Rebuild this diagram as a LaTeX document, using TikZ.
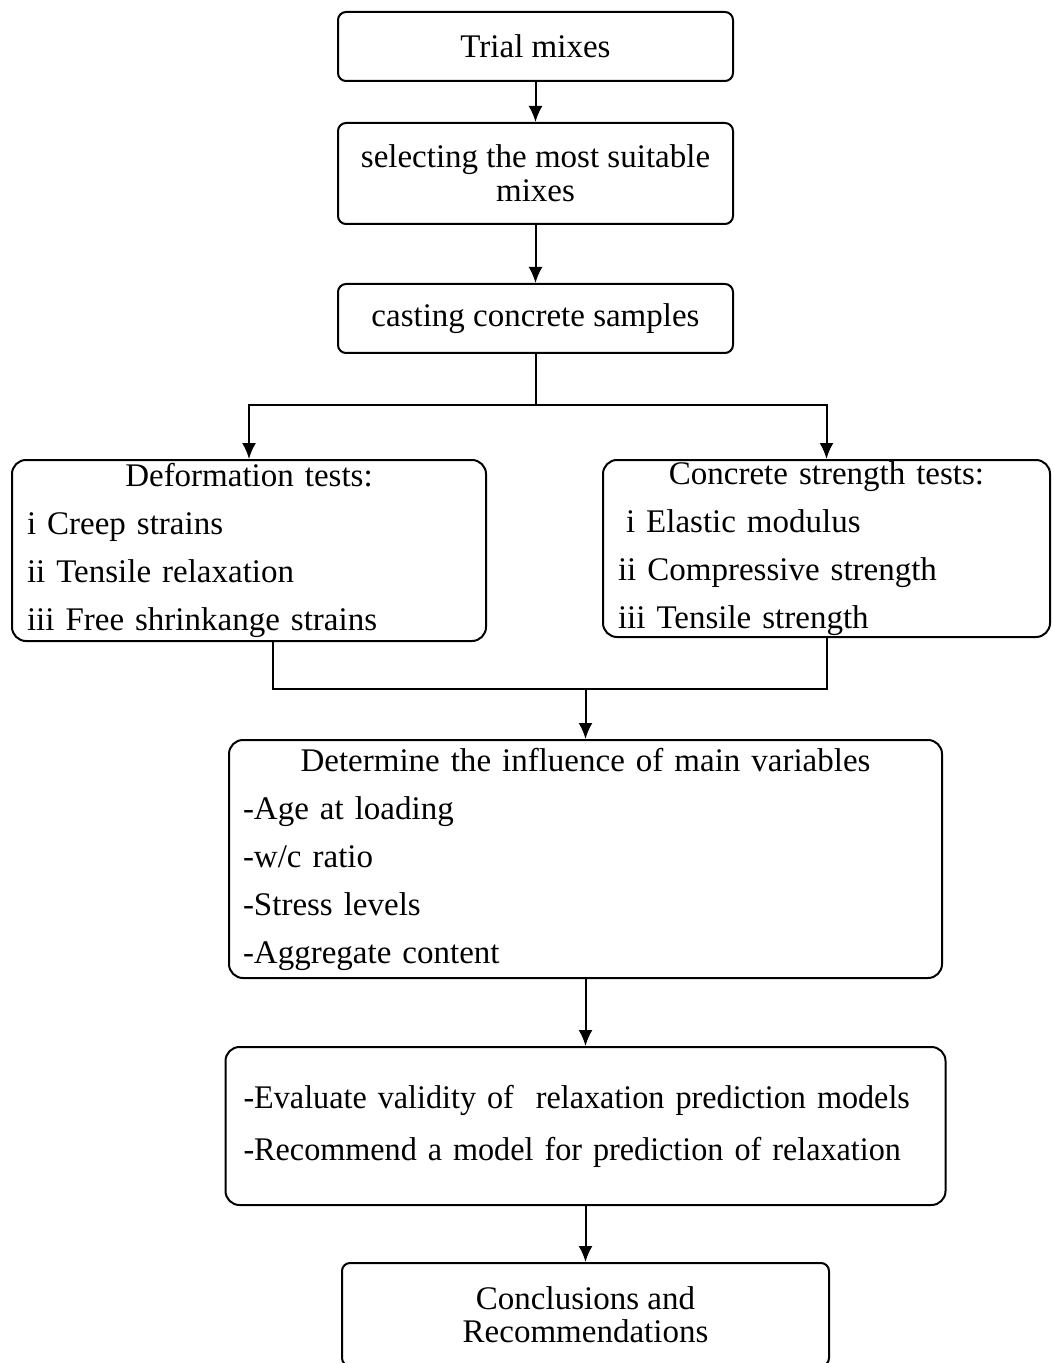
\documentclass[tikz,border=0pt]{standalone}
\usepackage{fontspec}
\setmainfont{Liberation Serif}
\usetikzlibrary{arrows.meta}
\begin{document}
\begin{tikzpicture}[x=0.5pt,y=-0.5pt,line width=1pt,
	box/.style={draw,rounded corners=4pt,inner sep=0pt,align=center},
	bigbox/.style={draw,rounded corners=7pt,inner ysep=0pt,align=left},
	arr/.style={-{Latex[length=8pt,width=7pt]}}]
	\useasboundingbox (0,0) rectangle (1051,1363);
	\def\fs#1{\fontsize{16.5}{#1}\selectfont}
	\node[box,minimum width=197.5pt,minimum height=34.5pt,font=\fs{20}] (trial) at (535.5,46.5) {Trial mixes};
	\node[box,minimum width=197.5pt,minimum height=50.5pt,font=\fs{17}] (select) at (535.5,173.5) {selecting the most suitable\\mixes};
	\node[box,minimum width=197.5pt,minimum height=34.5pt,font=\fs{20}] (cast) at (535.5,318.5) {casting concrete samples};
	\node[bigbox,text width=222pt,inner xsep=7.5pt,minimum height=90.5pt,font=\fs{24}] (deform) at (249,550.5)
	{\makebox[\linewidth]{Deformation tests:}\\i Creep strains\\ii Tensile relaxation\\iii Free shrinkange strains};
	\node[bigbox,text width=208.5pt,inner xsep=7.5pt,minimum height=88.5pt,font=\fs{24}] (strength) at (826.5,548.5)
	{\makebox[\linewidth]{Concrete strength tests:}\\\hspace*{4pt}i Elastic modulus\\ii Compressive strength\\iii Tensile strength};
	\node[bigbox,text width=342.5pt,inner xsep=7pt,minimum height=119pt,font=\fs{24}] (determ) at (585.5,859)
	{\makebox[\linewidth]{Determine the influence of main variables}\\-Age at loading\\-w/c ratio\\-Stress levels\\-Aggregate content};
	\node[bigbox,text width=342pt,inner xsep=9pt,minimum height=79pt,font=\fs{26}\addfontfeature{FakeStretch=0.975}] (eval) at (585.5,1126)
	{-Evaluate validity of\ \ relaxation prediction models\\-Recommend a model for prediction of relaxation};
	\node[box,minimum width=243.5pt,minimum height=51.5pt,font=\fs{16.5}] (concl) at (585.5,1314.5) {Conclusions and\\Recommendations};
	% connectors
	\coordinate (split) at (535.5,405);
	\coordinate (merge) at (585.5,689);
	\draw[arr] (trial) -- (select);
	\draw[arr] (select) -- (cast);
	\draw (cast.south) -- (split);
	\draw[arr] (split) -| (deform.north);
	\draw[arr] (split) -| (strength.north);
	\draw ([xshift=12pt]deform.south) |- (merge) -| (strength.south);
	\draw[arr] (merge) -- (determ.north);
	\draw[arr] (determ) -- (eval);
	\draw[arr] (eval) -- (concl);
\end{tikzpicture}
\end{document}
